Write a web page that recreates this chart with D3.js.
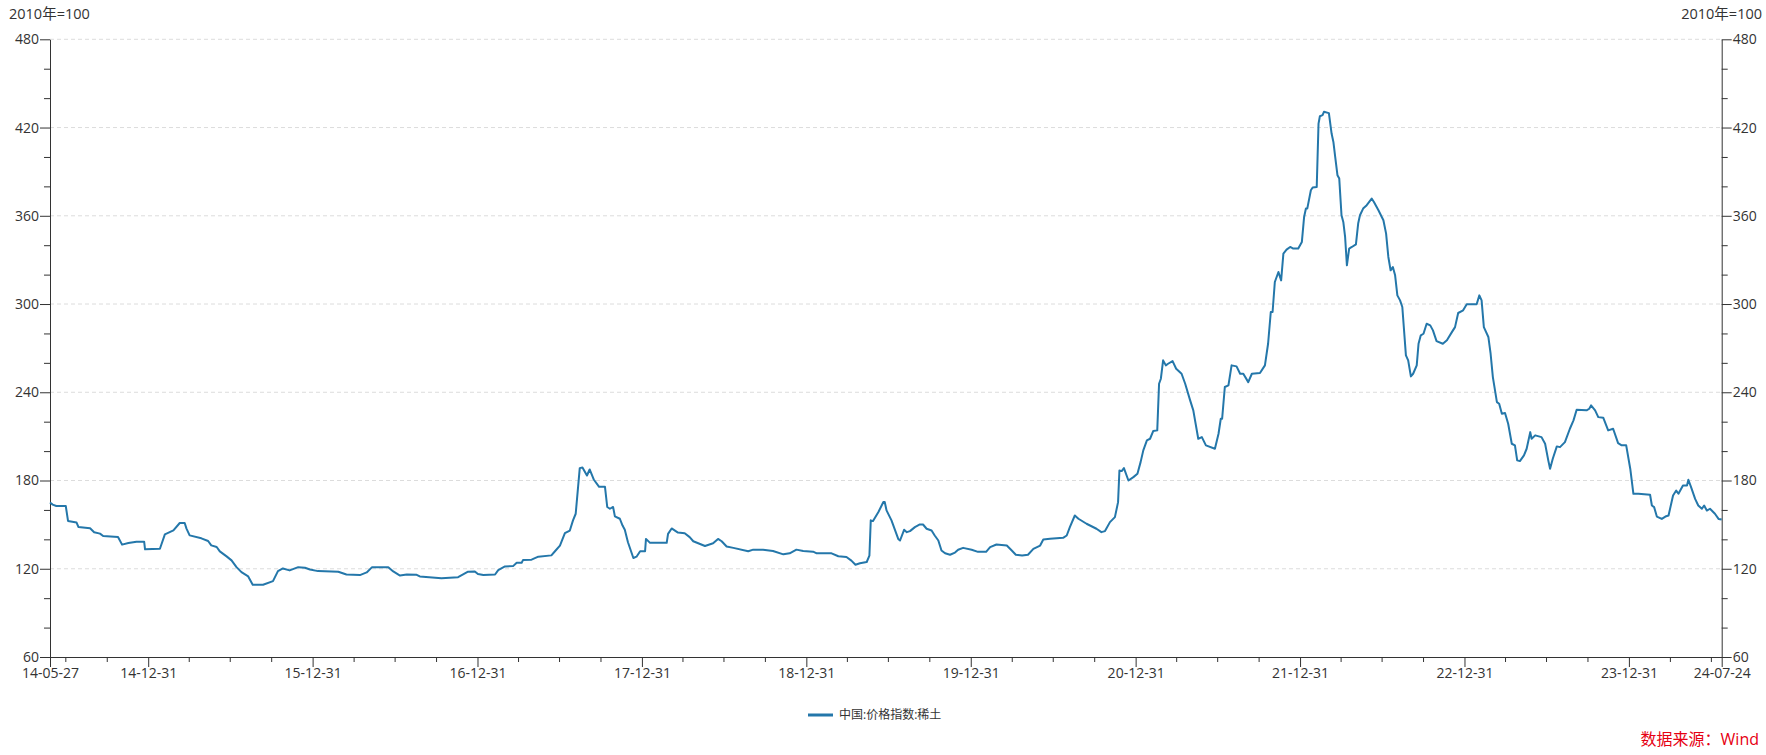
<!DOCTYPE html>
<html><head><meta charset="utf-8">
<script src="https://cdn.jsdelivr.net/npm/d3@7"></script>
<style>
body{margin:0;background:#fff;}
svg text{font-family:"Open Sans","Noto Sans CJK SC",sans-serif;}
</style></head><body>
<svg id="chart" width="1766" height="755"></svg>
<script>
const dates = [
"2014-05-27","2014-06-02","2014-06-10","2014-07-01","2014-07-06","2014-07-25","2014-07-29","2014-08-24","2014-09-02","2014-09-15","2014-09-22","2014-10-25","2014-11-03","2014-11-17","2014-12-05","2014-12-22","2014-12-24",
"2015-01-26","2015-02-06","2015-02-25","2015-03-11","2015-03-22","2015-03-26","2015-04-02","2015-04-28","2015-05-13","2015-05-20","2015-06-01","2015-06-08","2015-06-23","2015-07-04","2015-07-15","2015-07-26","2015-08-10","2015-08-20","2015-09-12","2015-10-04","2015-10-15","2015-10-26","2015-11-10","2015-11-29","2015-12-14","2015-12-25",
"2016-01-12","2016-02-26","2016-03-15","2016-04-14","2016-04-29","2016-05-11","2016-06-16","2016-06-27","2016-07-12","2016-07-27","2016-08-18","2016-08-25","2016-10-12","2016-11-18","2016-12-10","2016-12-25",
"2017-01-01","2017-01-13","2017-02-08","2017-02-15","2017-03-02","2017-03-20","2017-03-28","2017-04-08","2017-04-11","2017-04-30","2017-05-15","2017-06-13","2017-06-21","2017-07-02","2017-07-13","2017-07-24","2017-07-31","2017-08-06","2017-08-15","2017-08-21","2017-08-31","2017-09-06","2017-09-15","2017-09-27","2017-10-10","2017-10-15","2017-10-21","2017-10-28","2017-11-01","2017-11-12","2017-11-18","2017-11-23","2017-11-30","2017-12-12","2017-12-19","2017-12-27",
"2018-01-07","2018-01-09","2018-01-18","2018-02-24","2018-02-27","2018-03-07","2018-03-21","2018-04-05","2018-04-16","2018-04-24","2018-05-20","2018-06-07","2018-06-18","2018-06-26","2018-07-07","2018-07-22","2018-08-24","2018-09-04","2018-09-26","2018-10-18","2018-11-10","2018-11-24","2018-12-09","2018-12-24",
"2019-01-15","2019-01-23","2019-02-25","2019-03-12","2019-03-30","2019-04-10","2019-04-19","2019-04-29","2019-05-14","2019-05-20","2019-05-23","2019-05-28","2019-06-09","2019-06-20","2019-06-23","2019-06-27","2019-07-08","2019-07-23","2019-07-27","2019-08-05","2019-08-11","2019-08-18","2019-08-29","2019-09-09","2019-09-16","2019-09-24","2019-10-05","2019-10-12","2019-10-20","2019-10-27","2019-11-04","2019-11-15","2019-11-26","2019-12-03","2019-12-14",
"2020-01-02","2020-01-16","2020-02-03","2020-02-12","2020-02-26","2020-03-20","2020-03-31","2020-04-09","2020-04-23","2020-05-06","2020-05-18","2020-06-02","2020-06-09","2020-06-24","2020-07-23","2020-07-31","2020-08-07","2020-08-18","2020-08-26","2020-09-13","2020-10-05","2020-10-16","2020-10-24","2020-11-04","2020-11-15","2020-11-22","2020-11-25","2020-11-30","2020-12-05","2020-12-15","2020-12-26",
"2021-01-04","2021-01-11","2021-01-17","2021-01-25","2021-02-01","2021-02-08","2021-02-17","2021-02-21","2021-02-25","2021-03-02","2021-03-08","2021-03-13","2021-03-23","2021-03-31","2021-04-12","2021-04-20","2021-05-01","2021-05-08","2021-05-19","2021-05-27","2021-06-05","2021-06-25","2021-07-03","2021-07-08","2021-07-11","2021-07-17","2021-07-25","2021-08-01","2021-08-12","2021-08-20","2021-08-27","2021-09-07","2021-09-15","2021-10-03","2021-10-14","2021-10-21","2021-10-27","2021-10-31","2021-11-05","2021-11-13","2021-11-19","2021-11-24","2021-12-01","2021-12-09","2021-12-16","2021-12-27",
"2022-01-04","2022-01-09","2022-01-13","2022-01-16","2022-01-24","2022-01-28","2022-02-06","2022-02-10","2022-02-13","2022-02-19","2022-02-22","2022-03-05","2022-03-11","2022-03-15","2022-03-19","2022-03-24","2022-03-28","2022-04-02","2022-04-06","2022-04-10","2022-04-14","2022-04-19","2022-04-25","2022-05-04","2022-05-09","2022-05-13","2022-05-20","2022-05-28","2022-06-08","2022-06-13","2022-06-23","2022-07-04","2022-07-10","2022-07-15","2022-07-20","2022-07-25","2022-07-30","2022-08-04","2022-08-10","2022-08-15","2022-08-23","2022-08-28","2022-09-03","2022-09-08","2022-09-16","2022-09-20","2022-09-25","2022-10-01","2022-10-08","2022-10-16","2022-10-22","2022-10-30","2022-11-13","2022-11-22","2022-12-03","2022-12-10","2022-12-17","2022-12-28",
"2023-01-05","2023-01-27","2023-02-02","2023-02-07","2023-02-12","2023-02-22","2023-02-27","2023-03-04","2023-03-13","2023-03-18","2023-03-24","2023-03-31","2023-04-07","2023-04-15","2023-04-22","2023-04-27","2023-05-03","2023-05-12","2023-05-18","2023-05-26","2023-05-29","2023-06-06","2023-06-20","2023-06-28","2023-07-05","2023-07-09","2023-07-15","2023-07-24","2023-07-31","2023-08-11","2023-08-22","2023-08-30","2023-09-06","2023-09-28","2023-10-04","2023-10-08","2023-10-17","2023-10-24","2023-11-04","2023-11-15","2023-11-26","2023-12-07","2023-12-15","2023-12-25",
"2024-01-03","2024-01-10","2024-01-21","2024-02-16","2024-02-20","2024-02-25","2024-03-02","2024-03-13","2024-03-21","2024-03-28","2024-04-07","2024-04-14","2024-04-19","2024-04-29","2024-05-08","2024-05-11","2024-05-17","2024-05-26","2024-06-02","2024-06-10","2024-06-15","2024-06-21","2024-06-28","2024-07-09","2024-07-17","2024-07-24"
];
const values = [
165.0,163.6,162.7,162.7,152.5,151.4,148.4,147.5,144.8,143.9,142.3,141.6,136.4,137.5,138.4,138.4,133.2,
133.6,143.4,146.1,151.1,151.1,147.3,142.7,140.7,138.9,135.9,134.8,131.8,128.4,125.7,121.1,117.7,114.8,109.1,109.1,111.6,118.4,120.2,118.9,121.1,120.7,119.5,
118.4,118.0,116.1,115.7,117.5,121.1,121.1,118.2,115.4,116.1,115.9,114.8,113.6,114.3,118.0,118.2,
116.4,115.7,116.1,119.1,121.6,121.8,124.1,124.1,125.9,126.2,128.2,129.1,131.9,135.7,144.2,146.0,152.9,157.4,188.4,188.9,183.4,187.5,180.7,175.7,175.7,162.0,160.8,162.0,155.6,154.0,149.4,146.5,138.0,127.3,128.2,131.9,
131.9,140.3,137.6,137.6,143.7,147.4,144.6,144.2,141.5,138.7,135.5,137.3,140.3,138.7,135.1,134.2,131.9,133.0,133.0,132.1,129.8,130.5,133.0,132.1,
131.6,130.5,130.5,128.5,128.0,125.5,122.7,123.7,124.6,128.9,152.9,152.4,158.6,165.4,165.4,159.7,152.9,140.3,139.2,146.5,144.9,145.6,148.3,150.1,150.1,147.2,146.0,142.6,139.2,132.4,130.5,129.5,131.0,132.9,134.2,
132.9,131.5,131.5,134.7,136.5,135.8,132.4,129.5,129.0,129.5,133.5,135.8,139.9,140.4,141.0,142.6,148.3,156.2,154.0,150.6,147.2,144.9,145.6,151.7,155.1,165.3,186.8,186.4,188.4,180.0,182.3,
184.6,192.5,200.5,207.3,208.4,213.6,214.1,245.8,249.2,261.7,258.3,259.4,261.2,256.0,252.6,245.8,234.5,227.7,208.4,209.5,203.9,201.6,211.8,222.0,222.0,243.6,244.7,258.3,257.6,252.6,252.6,246.9,252.6,253.1,258.3,273.0,294.6,294.6,315.0,321.8,316.1,334.3,337.0,338.8,337.7,337.7,
342.2,359.2,364.9,364.9,377.4,379.2,379.6,422.7,427.7,428.4,430.7,429.8,415.9,410.2,400.0,387.6,385.3,360.4,355.8,345.6,326.3,337.7,338.8,340.6,354.7,360.4,364.9,367.2,371.7,369.4,363.8,357.0,347.9,332.0,322.9,325.2,319.5,305.9,302.5,298.0,265.1,261.7,250.8,252.6,258.3,273.0,278.7,279.8,286.6,285.5,282.1,274.8,273.0,275.3,280.9,284.3,293.9,295.7,
299.8,299.8,305.9,302.5,284.3,277.6,266.2,250.3,233.3,232.2,225.4,225.9,218.6,205.0,203.9,193.7,193.2,197.1,201.6,212.9,208.4,210.7,209.5,205.0,193.7,188.0,194.8,203.2,202.7,206.1,215.2,220.9,228.1,227.7,228.8,231.1,227.7,223.1,222.7,214.1,215.2,205.4,203.9,203.9,
188.0,171.0,171.0,170.3,163.0,161.9,155.5,153.9,155.5,156.2,169.8,173.2,171.0,176.6,176.6,180.5,175.5,167.5,163.0,160.8,163.0,159.6,160.8,157.4,153.9,153.5
];
const yTickValues = [60,120,180,240,300,360,420,480];
const yMinorValues = [80,100,140,160,200,220,260,280,320,340,380,400,440,460];
const xLabelDates = ["2014-05-27","2014-12-31","2015-12-31","2016-12-31","2017-12-31","2018-12-31","2019-12-31","2020-12-31","2021-12-31","2022-12-31","2023-12-31","2024-07-24"];
const seriesName = "中国:价格指数:稀土";
const unitLabel = "2010年=100";
const sourceLabel = "数据来源：Wind";

const parse = d3.utcParse("%Y-%m-%d");
const data = dates.map((d,i)=>({date:parse(d), value:values[i]}));
const labelDates = xLabelDates.map(parse);

const L = 50, R = 1721.7, T = 39.3, B = 657;
const x = d3.scaleUtc().domain([labelDates[0], labelDates[labelDates.length-1]]).range([L, R]);
const y = d3.scaleLinear().domain([60, 480]).range([B, T]);

const svg = d3.select("#chart");
const axisColor = "#333";
const textColor = "#333";

// grid
svg.append("g").selectAll("line").data(yTickValues.filter(v=>v!==60)).join("line")
  .attr("x1", L).attr("x2", R).attr("y1", d=>y(d)).attr("y2", d=>y(d))
  .attr("stroke", "#dcdcdc").attr("stroke-width", 1).attr("stroke-dasharray", "4,3");

function styleAxis(g){
  g.selectAll("path,line").attr("stroke", axisColor);
  g.selectAll("text").attr("fill", textColor).style("font-size","14px");
}

// left axis
svg.append("g").attr("transform",`translate(${L},0)`)
  .call(d3.axisLeft(y).tickValues(yTickValues).tickSize(10).tickSizeOuter(0).tickPadding(1).tickFormat(d3.format("d")))
  .call(styleAxis);
svg.append("g").attr("transform",`translate(${L},0)`)
  .call(d3.axisLeft(y).tickValues(yMinorValues).tickSize(6).tickFormat(""))
  .call(g=>g.select(".domain").remove()).call(styleAxis);
// right axis
svg.append("g").attr("transform",`translate(${R},0)`)
  .call(d3.axisRight(y).tickValues(yTickValues).tickSize(10).tickSizeOuter(0).tickPadding(1).tickFormat(d3.format("d")))
  .call(styleAxis);
svg.append("g").attr("transform",`translate(${R},0)`)
  .call(d3.axisRight(y).tickValues(yMinorValues).tickSize(6).tickFormat(""))
  .call(g=>g.select(".domain").remove()).call(styleAxis);

// bottom axis
const quarterEnds = d3.utcMonth.range(labelDates[0], labelDates[labelDates.length-1])
  .filter(d=>d.getUTCMonth()%3===0).map(d=>d3.utcDay.offset(d,-1))
  .filter(d=>d>labelDates[0] && d.getUTCMonth()!==11);
svg.append("g").attr("transform",`translate(0,${B})`)
  .call(d3.axisBottom(x).tickValues(labelDates).tickSize(10).tickSizeOuter(0).tickPadding(1).tickFormat(d3.utcFormat("%y-%m-%d")))
  .call(styleAxis);
svg.append("g").attr("transform",`translate(0,${B})`)
  .call(d3.axisBottom(x).tickValues(quarterEnds).tickSize(5).tickFormat(""))
  .call(g=>g.select(".domain").remove()).call(styleAxis);

// line
const lineColor = "#2477aa";
svg.append("path").datum(data)
  .attr("fill","none").attr("stroke",lineColor).attr("stroke-width",2).attr("stroke-linejoin","round")
  .attr("d", d3.line().x(d=>x(d.date)).y(d=>y(d.value)));

// unit labels
svg.append("text").attr("x",9).attr("y",19).attr("fill",textColor).style("font-size","14.5px").text(unitLabel);
svg.append("text").attr("x",1762).attr("y",19).attr("text-anchor","end").attr("fill",textColor).style("font-size","14.5px").text(unitLabel);

// legend
svg.append("line").attr("x1",808).attr("x2",833).attr("y1",715).attr("y2",715).attr("stroke",lineColor).attr("stroke-width",3);
svg.append("text").attr("x",839).attr("y",719).attr("fill",textColor).style("font-size","12px").text(seriesName);

// source
svg.append("text").attr("x",1759).attr("y",745).attr("text-anchor","end").attr("fill","#e60012").style("font-size","16px").text(sourceLabel);
</script>
</body></html>
